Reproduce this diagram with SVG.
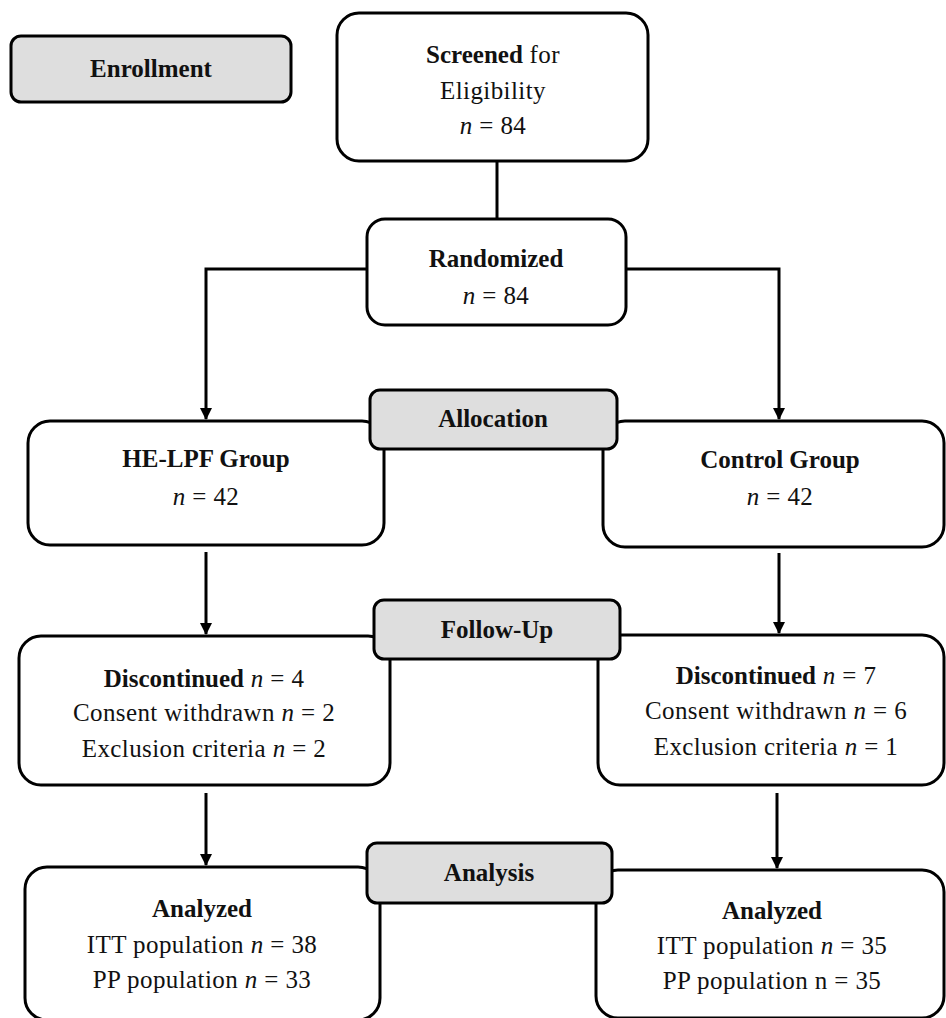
<svg xmlns="http://www.w3.org/2000/svg" width="946" height="1018" viewBox="0 0 946 1018">
<defs>
<style>
.box{fill:#fff;stroke:#000;stroke-width:3}
.lab{fill:#dedede;stroke:#000;stroke-width:3}
.t{font-family:"Liberation Serif","Times New Roman",serif;font-size:25px;fill:#111;text-anchor:middle;letter-spacing:0.4px}
.b{font-weight:bold;letter-spacing:0}
.i{font-style:italic}
.ln{fill:none;stroke:#000;stroke-width:3}
</style>
<marker id="ah" markerWidth="12" markerHeight="12" refX="11" refY="6" orient="auto" markerUnits="userSpaceOnUse">
<path d="M0,0 L12,6 L0,12 z" fill="#000"/>
</marker>
</defs>
<rect width="946" height="1018" fill="#fff"/>

<g id="enrollment">
<rect class="lab" x="11" y="36" width="280" height="66" rx="10"/>
<text class="t b" x="151" y="77">Enrollment</text>
</g>

<g id="screened">
<rect class="box" x="337" y="13" width="311" height="148" rx="22"/>
<text class="t" x="493" y="63"><tspan class="b">Screened</tspan> for</text>
<text class="t" x="493" y="99">Eligibility</text>
<text class="t" x="493" y="134"><tspan class="i">n</tspan> = 84</text>
</g>

<g id="randomized">
<rect class="box" x="367" y="219" width="259" height="106" rx="18"/>
<text class="t b" x="496" y="267">Randomized</text>
<text class="t" x="496" y="304"><tspan class="i">n</tspan> = 84</text>
</g>

<g id="helpf">
<rect class="box" x="28" y="421" width="356" height="124" rx="22"/>
<text class="t b" x="206" y="467">HE-LPF Group</text>
<text class="t" x="206" y="505"><tspan class="i">n</tspan> = 42</text>
</g>

<g id="control">
<rect class="box" x="603" y="421" width="341" height="126" rx="22"/>
<text class="t b" x="780" y="468">Control Group</text>
<text class="t" x="780" y="505"><tspan class="i">n</tspan> = 42</text>
</g>

<g id="disc-left">
<rect class="box" x="19" y="636" width="371" height="149" rx="22"/>
<text class="t" x="204" y="687"><tspan class="b">Discontinued</tspan> <tspan class="i">n</tspan> = 4</text>
<text class="t" x="204" y="721">Consent withdrawn <tspan class="i">n</tspan> = 2</text>
<text class="t" x="204" y="757">Exclusion criteria <tspan class="i">n</tspan> = 2</text>
</g>

<g id="disc-right">
<rect class="box" x="598" y="635" width="346" height="150" rx="22"/>
<text class="t" x="776" y="684"><tspan class="b">Discontinued</tspan> <tspan class="i">n</tspan> = 7</text>
<text class="t" x="776" y="719">Consent withdrawn <tspan class="i">n</tspan> = 6</text>
<text class="t" x="776" y="755">Exclusion criteria <tspan class="i">n</tspan> = 1</text>
</g>

<g id="analyzed-left">
<rect class="box" x="25" y="867" width="355" height="153" rx="22"/>
<text class="t b" x="202" y="917">Analyzed</text>
<text class="t" x="202" y="953">ITT population <tspan class="i">n</tspan> = 38</text>
<text class="t" x="202" y="988">PP population <tspan class="i">n</tspan> = 33</text>
</g>

<g id="analyzed-right">
<rect class="box" x="596" y="870" width="348" height="148" rx="22"/>
<text class="t b" x="772" y="919">Analyzed</text>
<text class="t" x="772" y="954">ITT population <tspan class="i">n</tspan> = 35</text>
<text class="t" x="772" y="989">PP population n = 35</text>
</g>

<g id="allocation">
<rect class="lab" x="370" y="390" width="247" height="59" rx="10"/>
<text class="t b" x="493" y="427">Allocation</text>
</g>

<g id="followup">
<rect class="lab" x="374" y="600" width="246" height="59" rx="10"/>
<text class="t b" x="497" y="638">Follow-Up</text>
</g>

<g id="analysis">
<rect class="lab" x="367" y="843" width="245" height="60" rx="10"/>
<text class="t b" x="489" y="881">Analysis</text>
</g>

<g id="connectors">
<path class="ln" d="M497,161 V219"/>
<path class="ln" d="M367,269 H206 V419" marker-end="url(#ah)"/>
<path class="ln" d="M626,269 H779 V419" marker-end="url(#ah)"/>
<path class="ln" d="M206,552 V634" marker-end="url(#ah)"/>
<path class="ln" d="M779,553 V633" marker-end="url(#ah)"/>
<path class="ln" d="M206,793 V865" marker-end="url(#ah)"/>
<path class="ln" d="M777,793 V868" marker-end="url(#ah)"/>
</g>
</svg>
